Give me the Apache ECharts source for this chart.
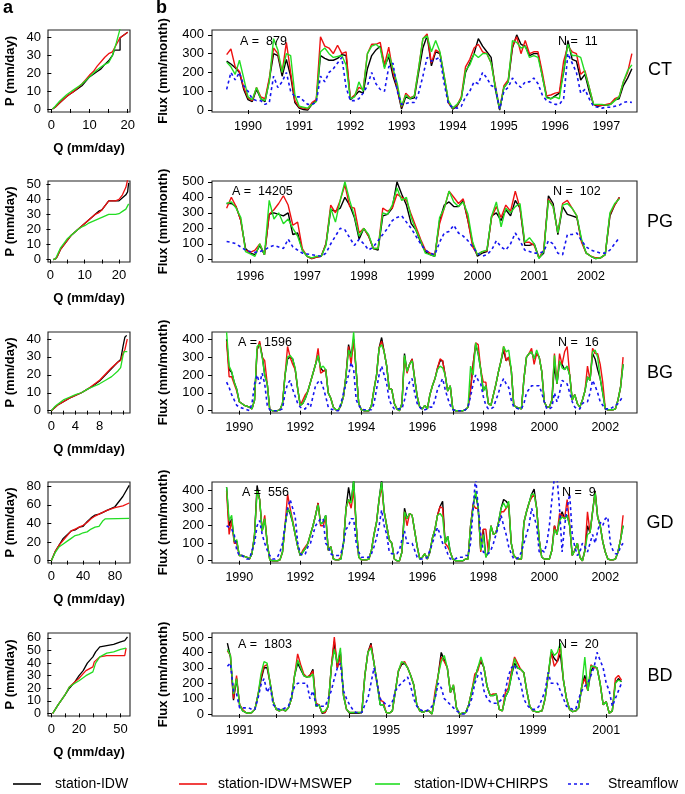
<!DOCTYPE html>
<html><head><meta charset="utf-8">
<script src="https://cdn.jsdelivr.net/npm/echarts@6/dist/echarts.min.js"></script>
<style>html,body{margin:0;padding:0;background:#fff}#c{width:685px;height:794px}</style>
</head><body><div id="c"></div>
<script>
// ---------------- DATA ----------------
const stations = ['CT','PG','BG','GD','BD'];
const areaText = ['879','14205','1596','556','1803'];
const gaugeText = ['11','102','16','9','20'];
const seriesNames = ['station-IDW','station-IDW+MSWEP','station-IDW+CHIRPS','Streamflow'];

// monthly series: start [year, month]
const ctStart = [1989, 8];
const ctIDW = [260,245,225,200,110,
 55,45,110,60,45,160,300,290,180,270,180,40,
 10,3,0,30,50,290,275,265,265,275,295,290,
 55,75,100,90,220,290,320,340,230,285,180,110,
 5,70,60,65,200,330,395,235,310,300,170,40,
 5,20,60,200,250,300,380,340,310,280,110,0,
 120,150,330,400,350,340,290,300,300,180,70,60,
 75,90,200,370,270,260,160,190,100,30,20,25,
 25,30,55,60,130,170,220];
const ctMSWEP = [295,325,230,205,120,
 65,50,120,70,60,170,330,300,200,360,200,50,
 15,10,5,40,55,390,340,330,300,345,300,310,
 60,80,120,110,300,350,350,360,240,335,200,120,
 15,90,65,75,220,380,405,250,320,305,180,40,
 10,25,70,230,270,330,350,310,300,250,130,5,
 130,160,340,390,300,370,300,310,310,200,75,80,
 90,95,260,340,310,300,190,210,120,30,25,25,
 30,35,60,70,150,200,300];
const ctCHIRPS = [255,230,190,265,170,
 70,55,120,60,50,150,380,320,200,300,290,80,
 20,15,10,30,45,310,330,300,280,285,290,240,
 60,70,150,100,300,340,350,330,220,300,220,140,
 20,80,60,75,220,380,395,310,370,310,180,50,
 10,30,60,210,240,300,280,300,300,250,120,5,
 120,150,370,360,330,340,280,290,280,180,65,60,
 70,60,210,350,290,290,280,200,120,30,30,30,
 25,30,50,70,150,210,240];
const ctFlow = [110,200,160,200,130,
 100,60,50,50,30,40,180,120,150,200,100,70,
 70,50,30,30,40,180,150,200,220,250,280,120,
 50,50,60,90,130,200,140,110,100,230,250,100,
 30,35,40,40,90,180,280,260,270,280,140,30,
 15,10,20,70,100,150,140,200,170,130,120,5,
 100,120,170,140,120,150,150,170,140,80,50,40,
 30,30,60,300,250,200,90,110,60,20,15,10,
 15,15,20,25,40,45,40];

const pgStart = [1995, 8];
const pgIDW = [360,360,340,250,70,
 40,30,90,30,290,300,290,280,300,160,170,60,
 20,5,15,20,100,320,310,330,400,350,270,130,
 200,150,70,60,280,290,330,500,420,350,230,190,
 110,50,30,20,250,350,370,340,340,380,250,100,
 20,40,50,280,300,250,320,280,380,330,90,90,
 100,10,40,410,360,160,340,290,280,270,120,40,
 20,5,10,30,280,350,400];
const pgMSWEP = [330,400,340,250,60,
 45,60,100,30,290,320,360,410,350,220,240,70,
 20,5,15,20,100,350,300,380,480,340,330,170,
 200,150,70,70,330,310,330,420,400,380,290,210,
 130,60,40,30,230,330,440,400,360,390,250,80,
 30,50,55,270,340,270,350,310,440,330,110,110,
 90,10,60,390,340,170,360,380,330,280,110,40,
 20,10,10,30,290,350,400];
const pgCHIRPS = [360,370,330,270,50,
 35,20,100,30,380,260,300,230,260,200,150,60,
 20,10,20,20,90,330,240,380,500,380,280,150,
 200,160,70,70,300,290,350,460,380,400,270,190,
 120,40,30,20,270,330,440,370,340,370,290,110,
 30,50,60,280,370,210,330,300,340,360,110,140,
 100,5,50,380,340,170,350,360,330,280,130,40,
 20,5,10,30,300,360,390];
const pgFlow = [115,110,100,80,60,
 50,45,50,60,80,90,80,70,130,80,60,40,
 35,30,25,20,40,100,150,200,190,140,90,130,
 100,60,80,120,160,200,250,270,280,240,200,150,
 100,60,40,30,110,170,180,220,170,150,120,80,
 40,20,30,60,120,80,60,100,170,120,60,50,
 40,40,50,120,100,40,30,160,160,170,120,80,
 60,50,40,40,60,100,140];

const bgStart = [1989, 8];
const bgIDW = [400,230,215,160,120,
 50,40,30,25,20,10,60,340,380,310,200,150,
 5,0,0,0,5,40,200,290,300,290,230,120,
 30,40,70,110,160,210,260,310,240,220,230,100,
 70,20,5,5,30,80,200,370,300,400,220,40,
 5,0,0,0,30,120,200,350,410,330,250,120,
 120,40,10,0,40,320,220,260,290,180,80,20,
 10,30,10,90,140,180,240,280,280,200,110,140,
 10,0,0,0,0,5,20,120,260,370,320,230,
 110,140,40,30,90,150,220,280,340,280,300,230,
 30,20,15,10,180,300,320,330,290,320,300,220,
 50,20,20,60,250,150,270,260,230,250,200,60,
 90,40,20,60,110,190,170,320,290,230,180,100,
 10,5,5,5,10,60,130,260];
const bgMSWEP = [390,190,190,150,110,
 50,40,30,25,20,10,60,340,390,300,280,150,
 5,0,0,0,5,40,200,360,300,260,230,120,
 30,60,90,110,160,210,260,350,210,220,230,100,
 70,20,5,5,30,80,200,360,260,400,220,40,
 5,0,0,0,30,120,200,350,390,330,250,120,
 120,40,10,0,40,300,210,260,290,180,80,20,
 10,30,10,90,140,180,240,290,280,200,110,140,
 10,0,0,0,0,5,20,120,260,380,370,230,
 160,160,40,30,90,150,220,280,360,280,300,230,
 30,20,15,10,180,300,320,350,260,320,300,220,
 50,20,20,60,320,150,320,260,330,360,200,60,
 90,40,20,60,110,250,170,350,320,320,260,160,
 10,5,5,5,10,60,130,300];
const bgCHIRPS = [440,250,220,160,120,
 50,40,30,25,20,10,60,360,370,300,200,150,
 5,0,0,0,5,40,200,300,310,290,240,120,
 30,40,70,110,160,210,260,310,240,250,230,100,
 70,20,5,5,30,80,200,340,300,440,220,40,
 5,0,0,0,30,120,200,350,370,330,250,120,
 120,40,10,0,40,310,220,260,280,180,80,20,
 10,30,10,90,140,180,230,250,240,200,110,140,
 10,0,0,0,0,5,20,250,200,380,320,230,
 110,140,40,30,90,150,220,280,360,330,340,230,
 30,20,15,10,180,300,320,330,290,340,300,220,
 50,20,20,60,310,150,280,240,230,250,200,60,
 90,40,20,60,110,190,170,330,340,300,180,100,
 10,5,5,5,10,60,130,260];
const bgFlow = [160,130,90,60,30,
 20,15,10,5,0,40,150,200,150,210,150,30,
 5,0,0,0,5,10,100,150,170,120,80,40,
 20,10,10,40,20,80,140,160,170,130,80,20,
 10,5,0,0,40,100,150,200,270,230,60,30,
 10,5,5,5,5,40,120,200,250,200,150,60,
 30,10,10,10,10,60,130,160,180,100,40,20,
 5,5,10,20,20,60,120,150,180,120,70,30,
 5,0,0,0,0,5,20,80,150,200,170,150,
 80,30,10,10,20,60,100,150,180,150,130,60,
 20,15,10,10,40,100,120,140,140,140,140,100,
 50,10,10,20,100,50,100,170,160,150,100,50,
 20,10,10,40,50,50,100,170,140,100,50,30,
 10,10,10,20,30,40,60,80];

const gdStart = [1989, 8];
const gdIDW = [420,200,240,110,110,
 30,30,25,20,10,40,150,430,350,170,240,100,
 5,0,0,0,5,50,200,300,270,220,150,80,
 30,50,70,100,150,200,260,330,210,220,260,60,
 80,10,5,5,10,100,300,420,330,460,200,20,
 5,5,5,10,60,150,220,350,460,280,200,120,
 100,10,0,0,50,300,240,270,260,170,80,10,
 20,40,10,50,130,180,260,310,340,100,140,50,
 10,0,0,0,0,10,10,200,320,380,300,60,
 180,20,50,200,150,160,220,300,350,340,320,100,
 30,15,10,10,220,280,330,380,410,300,120,20,
 10,10,10,60,200,150,230,280,240,260,200,30,
 60,100,20,0,60,200,160,280,400,250,200,110,
 50,10,5,5,10,50,120,200];
const gdMSWEP = [400,150,230,100,100,
 30,30,25,20,10,40,150,400,350,170,260,100,
 5,0,0,0,5,50,200,380,300,230,150,80,
 30,60,80,100,150,200,260,330,200,200,250,60,
 80,10,5,5,20,100,300,350,300,400,200,20,
 5,5,5,10,60,150,220,350,420,280,200,120,
 100,10,0,0,50,280,200,270,260,170,80,10,
 20,40,10,50,130,180,260,310,300,100,80,50,
 10,0,0,0,0,10,10,200,320,300,300,50,
 180,180,50,200,150,160,220,280,280,300,320,100,
 30,15,10,10,220,280,330,360,380,300,120,20,
 10,10,10,60,200,150,270,260,240,350,200,30,
 60,100,20,0,60,280,160,280,390,250,200,110,
 50,10,5,5,10,50,120,260];
const gdCHIRPS = [420,230,260,110,120,
 30,30,25,20,10,40,150,400,350,170,240,100,
 5,0,0,0,5,50,200,300,280,220,150,80,
 30,50,70,100,150,200,260,320,210,220,260,60,
 80,10,5,5,10,100,300,350,330,460,200,20,
 5,5,5,10,60,150,220,350,450,280,200,120,
 100,10,0,0,50,280,240,270,260,170,80,10,
 20,40,10,50,130,180,260,270,250,100,140,50,
 10,0,0,0,0,10,10,200,300,400,300,60,
 150,20,50,200,150,160,220,300,330,300,340,100,
 30,15,10,10,220,280,330,380,380,300,120,20,
 10,10,10,60,180,150,230,250,240,260,200,30,
 60,100,20,0,60,150,160,280,390,250,200,110,
 50,10,5,5,10,50,120,200];
const gdFlow = [200,190,180,150,60,
 30,30,20,10,10,60,100,200,230,150,100,60,
 30,10,10,20,50,100,200,300,350,300,250,100,
 40,30,40,80,100,150,200,220,240,240,100,80,
 40,30,30,30,40,100,180,200,240,240,100,50,
 20,20,20,20,40,80,130,200,290,200,150,50,
 40,40,40,60,120,170,100,100,100,60,20,10,
 10,10,20,60,100,150,190,150,100,80,40,10,
 10,10,20,20,20,30,30,100,300,480,300,150,
 50,40,40,60,100,150,200,260,200,150,80,40,
 10,10,20,50,100,150,200,300,250,200,50,60,
 50,100,200,350,480,480,300,50,200,300,380,150,
 80,30,50,100,80,50,100,150,100,170,220,200,
 240,250,100,60,40,40,80,100];

const bdStart = [1990, 9];
const bdIDW = [460,370,90,230,
 60,20,10,5,10,30,120,220,300,300,200,80,
 30,20,30,20,40,100,250,330,290,250,240,250,
 290,50,60,5,10,50,300,470,300,400,120,30,
 5,5,5,5,10,250,400,460,330,200,60,60,
 10,5,20,150,280,320,330,300,250,190,60,20,
 10,20,20,0,120,250,400,350,300,140,180,40,
 0,5,10,60,150,230,300,340,300,180,120,120,
 130,30,20,110,150,250,330,300,290,270,150,50,
 20,15,15,20,100,250,400,360,340,390,220,100,
 30,15,20,40,180,250,150,280,310,300,200,60,
 80,5,20,200,230,210];
const bdMSWEP = [410,380,100,250,
 60,30,10,5,10,30,120,240,310,320,200,80,
 30,20,30,20,40,100,250,390,320,260,240,250,
 280,70,60,10,10,50,300,500,300,380,130,30,
 10,10,10,10,10,250,400,450,330,200,90,80,
 10,5,20,150,280,330,340,300,250,190,60,20,
 10,20,20,0,150,250,370,340,300,140,190,40,
 0,5,10,60,150,260,280,360,300,180,120,130,
 130,30,20,140,170,280,370,330,290,270,150,50,
 20,15,15,20,100,250,400,310,340,440,220,100,
 30,15,20,40,180,230,150,320,300,300,200,60,
 80,5,20,230,250,220];
const bdCHIRPS = [420,380,130,230,
 60,20,10,5,10,30,120,260,340,330,200,80,
 30,20,30,20,40,100,250,350,300,250,240,240,
 260,50,60,10,20,50,300,420,330,430,120,30,
 10,10,10,10,10,250,400,430,330,200,60,60,
 10,5,20,150,280,340,330,300,250,190,60,20,
 10,20,20,0,120,250,340,380,300,140,190,40,
 0,5,10,60,150,230,300,370,300,180,120,120,
 130,30,20,110,150,250,360,300,290,270,150,50,
 20,15,15,20,100,250,420,380,400,460,220,100,
 30,15,20,40,180,370,150,310,310,300,200,60,
 80,5,20,200,220,210];
const bdFlow = [310,330,150,130,
 40,40,40,40,30,30,100,190,230,140,180,60,
 40,30,30,40,50,120,180,200,200,200,200,100,
 150,60,50,50,50,100,150,230,300,330,150,100,
 60,30,10,10,10,60,100,200,300,200,100,80,
 60,50,80,150,180,200,220,240,180,100,50,30,
 20,20,30,50,100,200,170,100,80,60,40,20,
 10,0,0,50,100,200,250,270,150,100,80,70,
 70,80,100,150,250,300,320,250,200,100,60,40,
 30,30,50,100,150,270,200,200,200,150,100,50,
 40,30,30,100,150,180,200,250,300,400,350,300,
 200,150,50,100,150,200];

// Q (mm/day) vs P (mm/day) curves, pairs [Q, P]
const ctQP_IDW = [[0.3,0],[1,1],[2,3],[3,5],[4,7],[5,8.5],[6,10],[7,11.5],[8,13],[9,15.5],[10,18],[11,19.5],[12,21],[13,22.5],[14,25],[15,27],[16,30],[16.5,33],[18,33],[18,40],[19,41.5],[20,43]];
const ctQP_MSWEP = [[0.3,0],[1,1],[2,3],[3,5],[4,7],[5,8.5],[6,10],[7,12],[8,14],[9,16.5],[10,19],[11,21],[12,24],[13,26.5],[14,29],[15,31],[16,32],[17,36],[18,40],[19,41.5],[20,43]];
const ctQP_CHIRPS = [[0.3,0],[1,1.5],[2,4],[3,6],[4,8],[5,9.5],[6,11],[7,12.5],[8,14],[9,16],[10,18],[11,20],[12,22],[13,23.5],[14,25],[15,26],[16,30],[17,37],[17.5,41],[18,45]];
const pgQP_IDW = [[0.8,0],[1.5,0.5],[2,2],[3,7],[4,10],[5,13],[6,16],[7,18],[8,20],[9,22],[10,24],[11,26],[12,28],[13,30],[14,32],[15,33],[16,36],[17,39],[18,39],[19,39],[20,39],[21,41],[22,43],[22.5,45],[22.8,51]];
const pgQP_MSWEP = [[0.8,0],[1.5,0.5],[2,2],[3,7],[4,10],[5,13],[6,16],[7,18],[8,20],[9,22],[10,24],[11,26],[12,28],[13,30],[14,31],[15,33],[16,36],[17,39],[18,39],[19,39],[20,40],[21,43],[22,48],[22.5,53]];
const pgQP_CHIRPS = [[0.8,0],[1.5,0.5],[2,3],[3,8],[4,11],[5,14],[6,16],[7,18],[8,20],[9,21.5],[10,22.5],[11,24],[12,25],[13,26],[14,27],[15,28],[16,29],[17,30],[18,30],[19,30],[20,30.5],[21,32],[22,33.5],[22.5,34],[22.8,37]];
const bgQP_IDW = [[0,0],[0.5,1.5],[1,3],[2,5],[3,7],[4,8.5],[5,10],[6,12],[7,14],[8,16.5],[9,20],[10,23.5],[11,27],[11.5,28.5],[11.9,36],[12.2,41],[12.5,42]];
const bgQP_MSWEP = [[0,0],[0.5,1.5],[1,3],[2,5],[3,7],[4,8.5],[5,10],[6,12],[7,14.5],[8,17],[9,20.5],[10,24],[11,27],[11.5,28],[11.9,32],[12.2,34],[12.6,40]];
const bgQP_CHIRPS = [[0,0],[0.5,2],[1,3.5],[2,6],[3,7.5],[4,9],[5,10],[6,12],[7,13.5],[8,15],[9,17],[10,19],[11,22],[11.5,24],[11.9,31],[12.1,33],[12.6,33]];
const gdQP_IDW = [[0,0],[5,10],[10,17],[15,24],[20,28],[25,32],[30,33],[35,36],[40,37],[45,42],[50,46],[55,49],[60,50],[65,52],[70,54],[75,56],[80,58],[90,69],[98,81]];
const gdQP_MSWEP = [[0,0],[5,10],[10,17],[15,22],[20,27],[25,32],[30,34],[35,36],[40,38],[45,41],[50,45],[55,48],[60,50],[70,54],[80,57],[90,59],[98,62]];
const gdQP_CHIRPS = [[0,0],[5,9],[10,15],[15,18],[20,21],[25,24],[30,27],[35,28],[40,30],[45,31],[50,34],[55,36],[60,37],[65,43],[68,45],[98,45.5]];
const bdQP_IDW = [[1,0],[5,7],[10,15],[13,20],[17,25],[20,30],[23,34],[26,40],[30,45],[32,49],[35,53],[40,54],[45,55],[50,57],[53,58],[55,61]];
const bdQP_MSWEP = [[1,0],[5,7],[10,15],[13,21],[17,25],[20,28],[25,34],[30,37],[31,41],[33,43],[35,45],[40,46],[45,46],[53,46],[54,52]];
const bdQP_CHIRPS = [[1,0],[5,7],[10,15],[13,21],[17,24],[20,26],[25,30],[30,33],[32,40],[35,45],[40,48],[45,49],[50,51],[54,52]];

// tick values / labels
const ctYears = [1990,1991,1992,1993,1994,1995,1996,1997];
const pgYears = [1996,1997,1998,1999,2000,2001,2002];
const bgYearTicks = [1990,1991,1992,1993,1994,1995,1996,1997,1998,1999,2000,2001,2002];
const bgYearLabels = [1990,1992,1994,1996,1998,2000,2002];
const bdYearTicks = [1991,1992,1993,1994,1995,1996,1997,1998,1999,2000,2001];
const bdYearLabels = [1991,1993,1995,1997,1999,2001];
const flux400Ticks = [0,100,200,300,400];
const flux500Ticks = [0,100,200,300,400,500];
const ctQTicks = [0,5,10,15,20], ctQLabels = [0,10,20], ctPTicks = [0,10,20,30,40];
const pgQTicks = [0,5,10,15,20], pgQLabels = [0,10,20], pgPTicks = [0,10,20,30,40,50];
const bgQTicks = [0,2,4,6,8,10,12], bgQLabels = [0,4,8], bgPTicks = [0,10,20,30,40];
const gdQTicks = [0,20,40,60,80], gdQLabels = [0,40,80], gdPTicks = [0,20,40,60,80];
const bdQTicks = [0,10,20,30,40,50], bdQLabels = [0,20,50], bdPTicks = [0,10,20,30,40,50,60];
const bdPLabelsEven = [0,20,40,60], bdPLabelsOdd = [10,30,50];

// ---------------- LAYOUT ----------------
const FONT = "'Liberation Sans', Arial, Helvetica, sans-serif";
const COLORS = ['#000000', '#ee1111', '#22dd22', '#1515f0'];
const rowsGeom = [{top:30,h:82},{top:181,h:81},{top:332,h:81},{top:482,h:81},{top:633,h:83}];

const rightCfg = [
  {start:ctStart, s:[ctIDW,ctMSWEP,ctCHIRPS,ctFlow], xr:[1989.297,1997.6], yr:[-10.5,426], yt:flux400Ticks, xt:ctYears, xl:ctYears},
  {start:pgStart, s:[pgIDW,pgMSWEP,pgCHIRPS,pgFlow], xr:[1995.326,2002.81], yr:[-17,505], yt:flux500Ticks, xt:pgYears, xl:pgYears},
  {start:bgStart, s:[bgIDW,bgMSWEP,bgCHIRPS,bgFlow], xr:[1989.105,2003.04], yr:[-13,441], yt:flux400Ticks, xt:bgYearTicks, xl:bgYearLabels},
  {start:gdStart, s:[gdIDW,gdMSWEP,gdCHIRPS,gdFlow], xr:[1989.105,2003.04], yr:[-13,450], yt:flux400Ticks, xt:bgYearTicks, xl:bgYearLabels},
  {start:bdStart, s:[bdIDW,bdMSWEP,bdCHIRPS,bdFlow], xr:[1990.247,2001.84], yr:[-13,526], yt:flux500Ticks, xt:bdYearTicks, xl:bdYearLabels}
];
const leftCfg = [
  {s:[ctQP_IDW,ctQP_MSWEP,ctQP_CHIRPS], xr:[-0.88,20.6], yr:[-1.7,44.3], xt:ctQTicks, xl:ctQLabels, yt:ctPTicks, yl:[ctPTicks], fs:13},
  {s:[pgQP_IDW,pgQP_MSWEP,pgQP_CHIRPS], xr:[-0.7,23.2], yr:[-1.6,52.2], xt:pgQTicks, xl:pgQLabels, yt:pgPTicks, yl:[pgPTicks], fs:13},
  {s:[bgQP_IDW,bgQP_MSWEP,bgQP_CHIRPS], xr:[-0.55,13.05], yr:[-1.3,43.9], xt:bgQTicks, xl:bgQLabels, yt:bgPTicks, yl:[bgPTicks], fs:13},
  {s:[gdQP_IDW,gdQP_MSWEP,gdQP_CHIRPS], xr:[-4.2,99], yr:[-2.5,84.6], xt:gdQTicks, xl:gdQLabels, yt:gdPTicks, yl:[gdPTicks], fs:13},
  {s:[bdQP_IDW,bdQP_MSWEP,bdQP_CHIRPS], xr:[-2.4,56.8], yr:[-2.1,64], xt:bdQTicks, xl:bdQLabels, yt:bdPTicks, yl:[bdPLabelsEven, bdPLabelsOdd], fs:12.5}
];

function monthly(start, arr){ return arr.map((v,i)=>[start[0] + (start[1]-1+i)/12, v]); }

const grid = [], xAxis = [], yAxis = [], series = [];
const tickStyle = {show:true, inside:false, length:4, lineStyle:{color:'#000', width:1}};
const lblBase = {color:'#000', fontFamily:FONT, showMinLabel:true, showMaxLabel:true, hideOverlap:false};
const nameStyle = {fontWeight:'bold', fontSize:13, color:'#000', fontFamily:FONT};

rowsGeom.forEach((r, i) => {
  // left panel
  const L = leftCfg[i], gl = grid.length;
  grid.push({left:48, top:r.top, width:82, height:r.h, show:true, borderColor:'#222', borderWidth:1.1, backgroundColor:'transparent', outerBoundsMode:'none', containLabel:false});
  const xi = xAxis.length;
  xAxis.push({type:'value', gridIndex:gl, min:L.xr[0], max:L.xr[1], axisLine:{show:false}, splitLine:{show:false},
    axisTick:Object.assign({customValues:L.xt}, tickStyle),
    axisLabel:Object.assign({customValues:L.xl, margin:7, fontSize:13}, lblBase),
    name:'Q (mm/day)', nameLocation:'middle', nameGap:30, nameTextStyle:nameStyle});
  const yi = yAxis.length;
  L.yl.forEach((labels, j) => {
    yAxis.push({type:'value', gridIndex:gl, position:'left', offset:0, min:L.yr[0], max:L.yr[1], axisLine:{show:false}, splitLine:{show:false},
      axisTick:j===0 ? Object.assign({customValues:L.yt}, tickStyle) : {show:false},
      axisLabel:Object.assign({customValues:labels, margin:7, fontSize:L.fs}, lblBase),
      name:j===0 ? 'P (mm/day)' : '', nameLocation:'middle', nameGap:31, nameRotate:90, nameTextStyle:nameStyle});
  });
  L.s.forEach((d, k) => series.push({type:'line', name:seriesNames[k], xAxisIndex:xi, yAxisIndex:yi, data:d,
    showSymbol:false, symbol:'none', lineStyle:{color:COLORS[k], width:1.3}, itemStyle:{color:COLORS[k]}, clip:true, z:2+k}));

  // right panel
  const R = rightCfg[i], gr = grid.length;
  grid.push({left:212, top:r.top, width:425, height:r.h, show:true, borderColor:'#222', borderWidth:1.1, backgroundColor:'transparent', outerBoundsMode:'none', containLabel:false});
  const xr = xAxis.length;
  xAxis.push({type:'value', gridIndex:gr, min:R.xr[0], max:R.xr[1], axisLine:{show:false}, splitLine:{show:false},
    axisTick:Object.assign({customValues:R.xt}, tickStyle),
    axisLabel:Object.assign({customValues:R.xl, margin:8, fontSize:12.5, formatter:v=>String(Math.round(v))}, lblBase)});
  const yr = yAxis.length;
  yAxis.push({type:'value', gridIndex:gr, min:R.yr[0], max:R.yr[1], axisLine:{show:false}, splitLine:{show:false},
    axisTick:Object.assign({customValues:R.yt}, tickStyle),
    axisLabel:Object.assign({customValues:R.yt, margin:8, fontSize:13}, lblBase),
    name:'Flux (mm/month)', nameLocation:'middle', nameGap:42, nameRotate:90, nameTextStyle:nameStyle});
  R.s.forEach((d, k) => series.push({type:'line', name:seriesNames[k], xAxisIndex:xr, yAxisIndex:yr, data:monthly(R.start, d),
    showSymbol:false, symbol:'none',
    lineStyle:{color:COLORS[k], width:k===3?1.6:1.4, type:k===3?[3,3]:'solid'}, itemStyle:{color:COLORS[k]}, clip:true, z:2+k}));
});

// text annotations
const graphic = [];
function txt(x, y, text, size, weight, align){
  graphic.push({type:'text', x:x, y:y, silent:true, z:100,
    style:{text:text, fontSize:size, fontFamily:FONT, fontWeight:weight||'normal', fill:'#000', align:align||'left', verticalAlign:'middle'}});
}
txt(3, 8, 'a', 18, 'bold');
txt(156, 8, 'b', 18, 'bold');
const annY = [42, 192, 343, 493, 645];
const annAX = [240, 232, 238, 242, 238];
const annNX = [558, 553, 558, 562, 558];
const stY = [70, 222, 373, 523, 676];
stations.forEach((s, i) => {
  txt(annAX[i], annY[i], 'A =  ' + areaText[i], 12.5);
  txt(annNX[i], annY[i], 'N =  ' + gaugeText[i], 12.5);
  txt(660, stY[i], s, 18, 'normal', 'center');
});
// legend
const legY = 784;
const legItems = [[13,41,55],[179,207,218],[375,400,414],[568,590,608]];
legItems.forEach((p, k) => {
  graphic.push({type:'line', silent:true, shape:{x1:p[0], y1:legY, x2:p[1], y2:legY},
    style:{stroke:COLORS[k], lineWidth:1.6, lineDash:k===3?[3,3]:null}});
  txt(p[2], legY, seriesNames[k], 14);
});

const chart = echarts.init(document.getElementById('c'), null, {renderer:'canvas'});
chart.setOption({animation:false, backgroundColor:'#fff', grid, xAxis, yAxis, series, graphic});
</script></body></html>
